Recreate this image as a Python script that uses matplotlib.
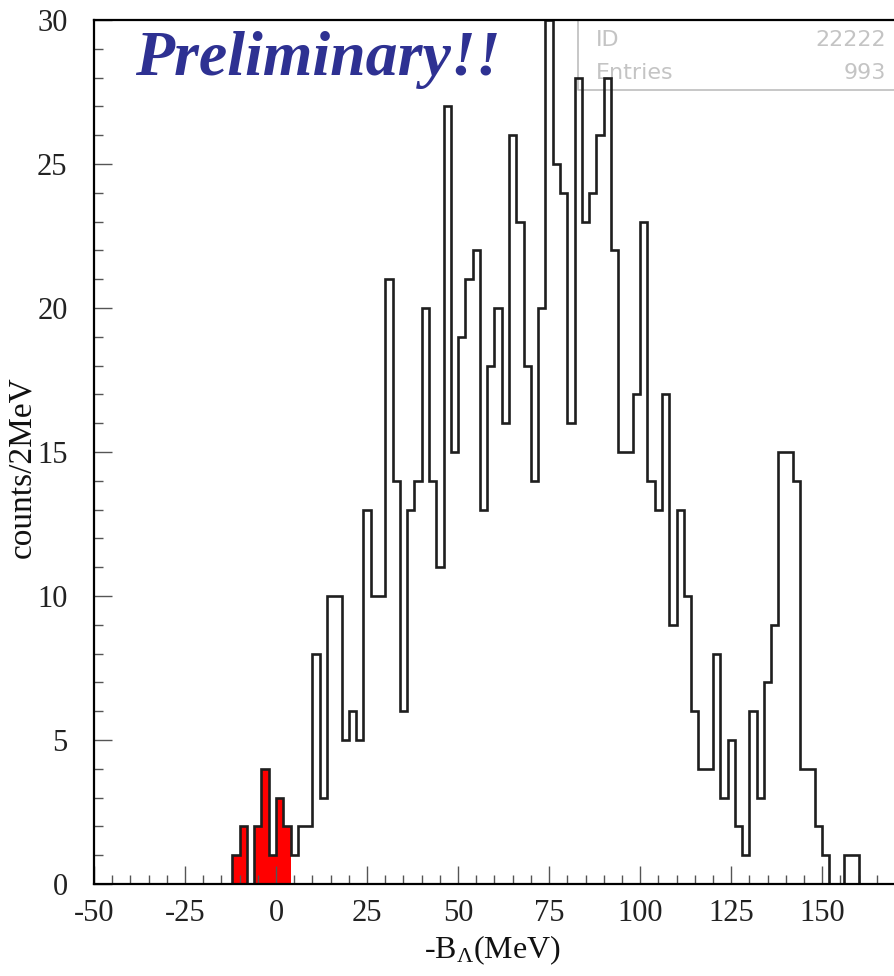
import numpy as np
import matplotlib
matplotlib.use("Agg")
import matplotlib.pyplot as plt
from matplotlib.ticker import MultipleLocator

# Missing-mass spectrum, 2 MeV bins starting at -12 MeV
bin_width = 2
first_edge = -12
counts = [
    1, 2, 0, 2, 4, 1, 3, 2,                 # -12 .. 4  (bound region)
    1, 2, 2, 8, 3, 10, 10, 5, 6, 5,         # 4 .. 24
    13, 10, 10, 21, 14, 6, 13, 14, 20, 14,  # 24 .. 44
    11, 27, 15, 19, 21, 22, 13, 18, 20, 16, # 44 .. 64
    26, 23, 18, 14, 20, 30, 25, 24, 16, 28, # 64 .. 84
    23, 24, 26, 28, 22, 15, 15, 17, 23, 14, # 84 .. 104
    13, 17, 9, 13, 10, 6, 4, 4, 8, 3,       # 104 .. 124
    5, 2, 1, 6, 3, 7, 9, 15, 15, 14,        # 124 .. 144
    4, 4, 2, 1, 0, 0, 1, 1,                 # 144 .. 160
]
signal_range = (-12, 4)

x_range = (-50, 170)
y_range = (0, 30)
x_major, x_minor = 25, 5
y_major, y_minor = 5, 1

stat_id = "22222"
stat_entries = "993"

counts = np.asarray(counts, dtype=float)
edges = first_edge + bin_width * np.arange(len(counts) + 1)

# signal bins (filled)
sig_mask = (edges[:-1] >= signal_range[0]) & (edges[1:] <= signal_range[1])
sig_counts = counts[sig_mask]
sig_edges = edges[np.r_[sig_mask, False] | np.r_[False, sig_mask]]

# full outline padded out to the axis range
lo_pad = np.arange(x_range[0], first_edge, bin_width)
hi_pad = np.arange(edges[-1] + bin_width, x_range[1] + bin_width, bin_width)
all_edges = np.concatenate([lo_pad, edges, hi_pad])
all_counts = np.concatenate([np.zeros(len(lo_pad)), counts, np.zeros(len(hi_pad))])

plt.rcParams["axes.unicode_minus"] = False
serif = "Liberation Serif"
plt.rcParams["mathtext.fontset"] = "custom"
plt.rcParams["mathtext.rm"] = serif
plt.rcParams["mathtext.it"] = serif + ":italic"

W, H = 895, 976
fig = plt.figure(figsize=(W / 100, H / 100), dpi=100)
fig.patch.set_facecolor("white")

L, R, B, T = 94, 895, 884, 20
ax = fig.add_axes([L / W, 1 - B / H, (R - L) / W, (B - T) / H])

ax.stairs(sig_counts, sig_edges, fill=True, color="#ff0000", zorder=1)
ax.stairs(all_counts, all_edges, color="#1e1e1e", linewidth=1.9, zorder=3,
          baseline=0)

ax.set_xlim(*x_range)
ax.set_ylim(*y_range)

ax.xaxis.set_major_locator(MultipleLocator(x_major))
ax.xaxis.set_minor_locator(MultipleLocator(x_minor))
ax.yaxis.set_major_locator(MultipleLocator(y_major))
ax.yaxis.set_minor_locator(MultipleLocator(y_minor))

ax.tick_params(which="both", direction="in", color="#555555", width=1.0,
               top=False, right=False)
ax.tick_params(which="major", length=13)
ax.tick_params(which="minor", length=6.5)
ax.tick_params(axis="x", which="major", pad=11)
ax.tick_params(axis="y", which="major", pad=19)

for lab in ax.get_xticklabels() + ax.get_yticklabels():
    lab.set_fontfamily(serif)
    lab.set_fontsize(22)
    lab.set_color("#222222")

for side in ("left", "bottom", "top"):
    ax.spines[side].set_linewidth(1.6)
    ax.spines[side].set_color("black")
    ax.spines[side].set_zorder(4)
ax.spines["right"].set_visible(False)

# statistics box in the upper right corner
box_x = (578 - L) / (R - L)
box_y = (B - 90) / (B - T)
ax.plot([box_x, box_x, 1.0], [1.0, box_y, box_y], transform=ax.transAxes,
        color="#bdbdbd", linewidth=1.2, zorder=2, clip_on=False)
stat_font = dict(family="DejaVu Sans", fontsize=16, color="#c4c4c4",
                 transform=ax.transAxes, va="center", zorder=2)
ax.text((596 - L) / (R - L), (B - 40) / (B - T), "ID", ha="left", **stat_font)
ax.text((596 - L) / (R - L), (B - 73) / (B - T), "Entries", ha="left", **stat_font)
ax.text((886 - L) / (R - L), (B - 40) / (B - T), stat_id, ha="right", **stat_font)
ax.text((886 - L) / (R - L), (B - 73) / (B - T), stat_entries, ha="right", **stat_font)

ax.text((135 - L) / (R - L), (B - 75) / (B - T), "Preliminary!!",
        transform=ax.transAxes, ha="left", va="baseline",
        family=serif, style="italic", weight="bold", fontsize=46,
        color="#2e3192", zorder=5)

fig.text(22 / W, 1 - 467 / H, "counts/2MeV", rotation=90,
         ha="center", va="center", family=serif, fontsize=24, color="#111111")
fig.text(492 / W, 1 - 958 / H, r"-B$_{\Lambda}$(MeV)",
         ha="center", va="baseline", family=serif, fontsize=23, color="#111111")

fig.savefig("out.png", dpi=100, facecolor="white")
